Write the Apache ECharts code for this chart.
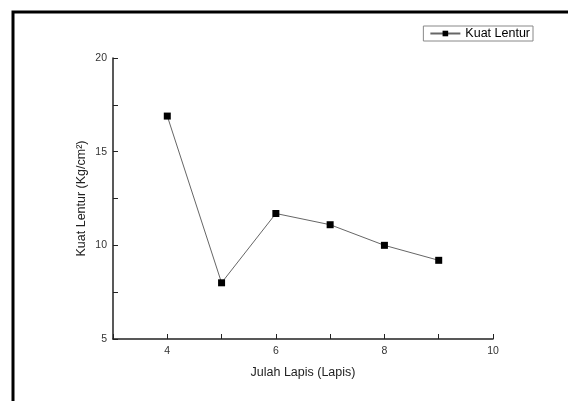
<!DOCTYPE html>
<html><head><meta charset="utf-8">
<script src="https://cdn.jsdelivr.net/npm/echarts@6/dist/echarts.min.js"></script>
<style>html,body{margin:0;padding:0;background:#fff}#c{width:568px;height:401px}</style>
</head><body><div id="c"></div>
<script>
const xValues = [4, 5, 6, 7, 8, 9];
const kuatLentur = [16.9, 8.0, 11.7, 11.1, 10.0, 9.2];
const seriesName = 'Kuat Lentur';
const xTitle = 'Julah Lapis (Lapis)';
const yTitle = 'Kuat Lentur (Kg/cm²)';

const chart = echarts.init(document.getElementById('c'), null, {renderer: 'canvas'});
const font = 'Liberation Sans, Arial, sans-serif';
chart.setOption({
  animation: false,
  backgroundColor: '#fff',
  graphic: [
    {type: 'polyline', shape: {points: [[13, 401], [13, 12], [568, 12]]}, style: {stroke: '#000', lineWidth: 3, fill: null}}
  ],
  legend: {
    right: 35, top: 26,
    itemWidth: 30, itemHeight: 7, itemGap: 4,
    borderColor: '#888', borderWidth: 1, padding: [1, 3, 1, 6],
    textStyle: {fontFamily: font, fontSize: 12.5, color: '#000', padding: [0, 0, 0, 0]},
    data: [seriesName]
  },
  grid: {left: 113, right: 75, top: 58, bottom: 62},
  xAxis: {
    type: 'value', min: 3, max: 10, interval: 1,
    name: xTitle, nameLocation: 'middle', nameGap: 27, nameMoveOverlap: false,
    nameTextStyle: {fontFamily: font, fontSize: 12.5, color: '#222'},
    axisLine: {show: true, lineStyle: {color: '#222', width: 1.5}},
    axisTick: {show: true, inside: true, length: 5, lineStyle: {color: '#222'}, interval: 0},
    axisLabel: {fontFamily: font, fontSize: 10.5, color: '#333', margin: 7,
      formatter: v => (v % 2 === 0 ? String(v) : '')},
    splitLine: {show: false}
  },
  yAxis: {
    type: 'value', min: 5, max: 20, interval: 2.5,
    name: yTitle, nameLocation: 'middle', nameGap: 25, nameMoveOverlap: false,
    nameTextStyle: {fontFamily: font, fontSize: 12.5, color: '#222'},
    axisLine: {show: true, lineStyle: {color: '#222', width: 1.5}},
    axisTick: {show: true, inside: true, length: 5, lineStyle: {color: '#222'}},
    axisLabel: {fontFamily: font, fontSize: 10.5, color: '#333', margin: 6,
      formatter: v => (v % 5 === 0 ? String(v) : '')},
    splitLine: {show: false}
  },
  series: [{
    name: seriesName, type: 'line',
    data: xValues.map((x, i) => [x, kuatLentur[i]]),
    symbol: 'rect', symbolSize: 7,
    itemStyle: {color: '#000'},
    lineStyle: {color: '#666', width: 1}
  }]
});
</script></body></html>
